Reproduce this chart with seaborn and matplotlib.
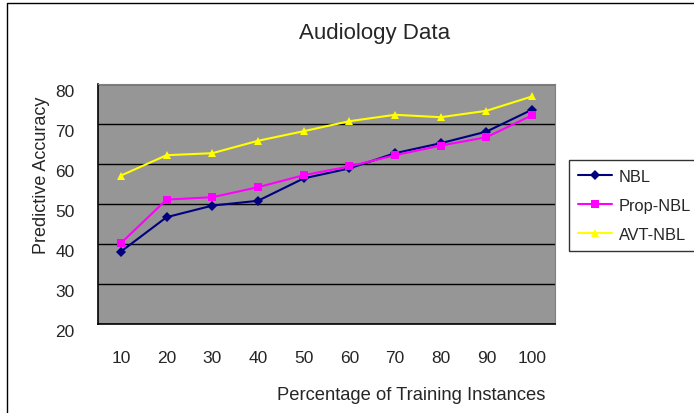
import numpy as np
import pandas as pd
import matplotlib
matplotlib.use('Agg')
import matplotlib.pyplot as plt
from matplotlib.lines import Line2D
import seaborn as sns

# ── datos ────────────────────────────────────────────────────────────────────
pct = [10, 20, 30, 40, 50, 60, 70, 80, 90, 100]
nbl = [38.1, 46.7, 49.6, 50.8, 56.4, 58.9, 62.7, 65.2, 68.1, 73.6]
prop_nbl = [40.2, 51.1, 51.7, 54.2, 57.2, 59.4, 62.2, 64.6, 66.7, 72.2]
avt_nbl = [57.1, 62.2, 62.7, 65.8, 68.2, 70.7, 72.3, 71.7, 73.3, 76.9]
metodos = ['NBL', 'Prop-NBL', 'AVT-NBL']
y_ticks = [20, 30, 40, 50, 60, 70, 80]

df = pd.DataFrame({
    'pct': pct * 3,
    'acc': nbl + prop_nbl + avt_nbl,
    'metodo': np.repeat(metodos, len(pct)),
})

sns.set_style('white')
plt.rcParams['font.family'] = ['Liberation Sans', 'DejaVu Sans']

W, H = 694, 414
fig = plt.figure(figsize=(W / 100, H / 100), dpi=100)
fig.patch.set_facecolor('white')
ax = fig.add_axes([98 / W, 1 - 325 / H, 457 / W, 240 / H])

colores = {'NBL': '#000080', 'Prop-NBL': '#FF00FF', 'AVT-NBL': '#FFFF00'}
marcas = {'NBL': 'D', 'Prop-NBL': 's', 'AVT-NBL': '^'}
sns.lineplot(data=df, x='pct', y='acc', hue='metodo', style='metodo',
             palette=colores, markers=marcas, dashes=False, markersize=5.5,
             markeredgewidth=0, linewidth=1.5, ax=ax, legend=False)

ax.set_facecolor('#969696')
ax.set_xlim(5, 105)
ax.set_ylim(20, 80)
ax.set_yticks(y_ticks)
ax.set_xticks(pct)
ax.set_xticks([p + 5 for p in pct[:-1]], minor=True)
ax.grid(axis='y', color='black', linewidth=1.0)
ax.set_axisbelow(True)
ax.tick_params(axis='x', which='major', length=0, pad=19, labelsize=12.5)
ax.tick_params(axis='x', which='minor', direction='in', length=4, width=1, color='black')
ax.tick_params(axis='y', length=3, width=1, color='black', pad=14, labelsize=12.5)
for lab in ax.get_yticklabels():
    lab.set_verticalalignment('top')
ax.set_xlabel('')
ax.set_ylabel('')
for lado in ['top', 'right']:
    ax.spines[lado].set_color('#808080')
for lado in ['left', 'bottom']:
    ax.spines[lado].set_color('black')
    ax.spines[lado].set_linewidth(1.2)

fig.text(375 / W, 1 - 33 / H, 'Audiology Data', fontsize=16, ha='center', va='center')
fig.text(411 / W, 1 - 396 / H, 'Percentage of Training Instances', fontsize=13.2,
         ha='center', va='center')
fig.text(42 / W, 1 - 175 / H, 'Predictive Accuracy', fontsize=13,
         rotation=90, ha='center', va='center')

# marco exterior del grafico
fig.add_artist(Line2D([7 / W, 7 / W, 1.0], [0.0, 1 - 4 / H, 1 - 4 / H],
                      transform=fig.transFigure, color='black', linewidth=1.0))

handles = [Line2D([], [], color=colores[m], marker=marcas[m], markersize=5.5,
                  markeredgewidth=0, linewidth=1.5) for m in metodos]
leg = fig.legend(handles, metodos, loc='upper left',
                 bbox_to_anchor=(569 / W, 1 - 161 / H), fontsize=11.8,
                 frameon=True, fancybox=False, edgecolor='black',
                 handlelength=2.1, handletextpad=0.4, labelspacing=0.85,
                 borderpad=0.55, borderaxespad=0)
leg.get_frame().set_linewidth(1.0)

fig.savefig('out.png', dpi=100, facecolor='white')
